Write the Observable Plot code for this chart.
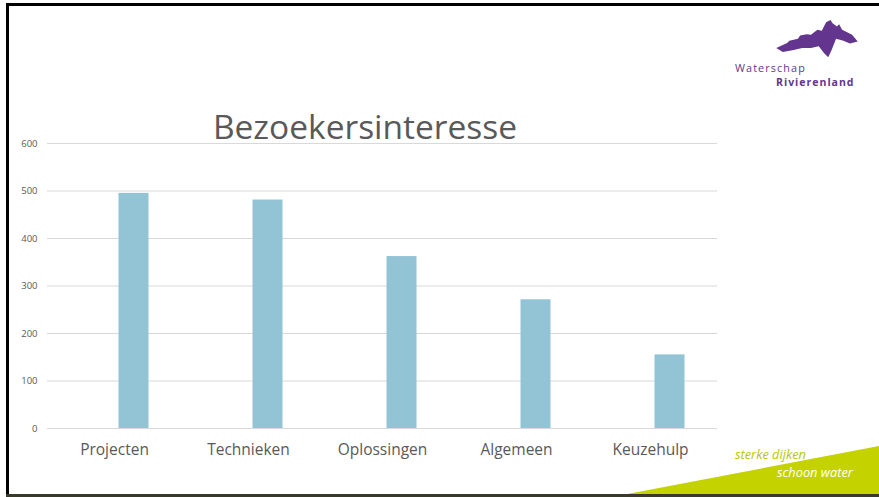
<!DOCTYPE html>
<html>
<head>
<meta charset="utf-8">
<script src="https://cdn.jsdelivr.net/npm/d3@7"></script>
<script src="https://cdn.jsdelivr.net/npm/@observablehq/plot@0.6"></script>
<style>
  html, body { margin: 0; padding: 0; background: #fff; }
  #wrap { position: relative; width: 879px; height: 497px; overflow: hidden; font-family: "Open Sans", sans-serif; }
  #wrap > * { position: absolute; }
  #chart { left: 0; top: 0; }
</style>
</head>
<body>
<div id="wrap">
  <div id="chart"></div>
  <svg id="deco" width="879" height="497" style="left:0;top:0;pointer-events:none">
    <!-- frame -->
    <rect x="6" y="3" width="873" height="3" fill="#000"/>
    <rect x="6" y="3" width="3" height="493" fill="#000"/>
    <!-- green slice -->
    <polygon points="622,495 879,446 879,495" fill="#c4d300"/>
    <rect x="6" y="494" width="873" height="3" fill="#3a3a2a"/>
    <text x="735" y="459" font-family="Open Sans, sans-serif" font-style="italic" font-size="12.8" fill="#b5c800">sterke dijken</text>
    <text x="777" y="477" font-family="Open Sans, sans-serif" font-style="italic" font-size="12.8" fill="#ffffff">schoon water</text>
    <!-- logo -->
    <g transform="translate(746,15) scale(0.433,0.33)">
      <path d="M70,100 L95,85 L100,78 L120,72 L125,62 L140,58 L150,60 L165,45 L175,48 L185,22 L195,15 L200,25 L210,35 L215,28 L222,45 L245,60 L258,80 L240,86 L225,78 L208,72 L198,105 L190,128 L180,115 L168,95 L150,100 L130,100 L110,106 L85,112 Z" fill="#63358f"/>
    </g>
    <text x="735" y="72" font-family="Open Sans, sans-serif" font-size="10.8" letter-spacing="1.1" fill="#63358f">Waterschap</text>
    <text x="776" y="86" font-family="Open Sans, sans-serif" font-size="10.5" font-weight="bold" letter-spacing="1.0" fill="#63358f">Rivierenland</text>
  </svg>
</div>
<script>
const categories = ["Projecten", "Technieken", "Oplossingen", "Algemeen", "Keuzehulp"];
const visitors = [495, 481, 362, 271, 155];
const yTicks = [0, 100, 200, 300, 400, 500, 600];
const title = "Bezoekersinteresse";

const data = categories.map((c, i) => ({category: c, value: visitors[i]}));

const chart = Plot.plot({
  width: 879,
  height: 497,
  marginLeft: 47,
  marginRight: 162,
  marginTop: 143,
  marginBottom: 69,
  style: {background: "transparent", fontFamily: "Open Sans, sans-serif", color: "#595959"},
  x: {domain: categories, padding: 0, label: null},
  y: {domain: [0, 600], label: null},
  marks: [
    Plot.gridY(yTicks, {stroke: "#d9d9d9", strokeOpacity: 1, strokeWidth: 1}),
    Plot.barY(data, {x: "category", y: "value", fill: "#93c4d5", insetLeft: 71.5, insetRight: 32.5}),
    Plot.axisY(yTicks, {tickSize: 0, tickPadding: 10, fontSize: 9.5, fill: "#595959", label: null}),
    Plot.axisX({tickSize: 0, tickPadding: 15, fontSize: 15.5, fill: "#595959", label: null}),
    Plot.text([title], {frameAnchor: "top", text: d => d, dy: -5, dx: -17.5, fontSize: 33.5, fill: "#595959", lineAnchor: "bottom"})
  ]
});
document.getElementById("chart").appendChild(chart);
</script>
</body>
</html>
